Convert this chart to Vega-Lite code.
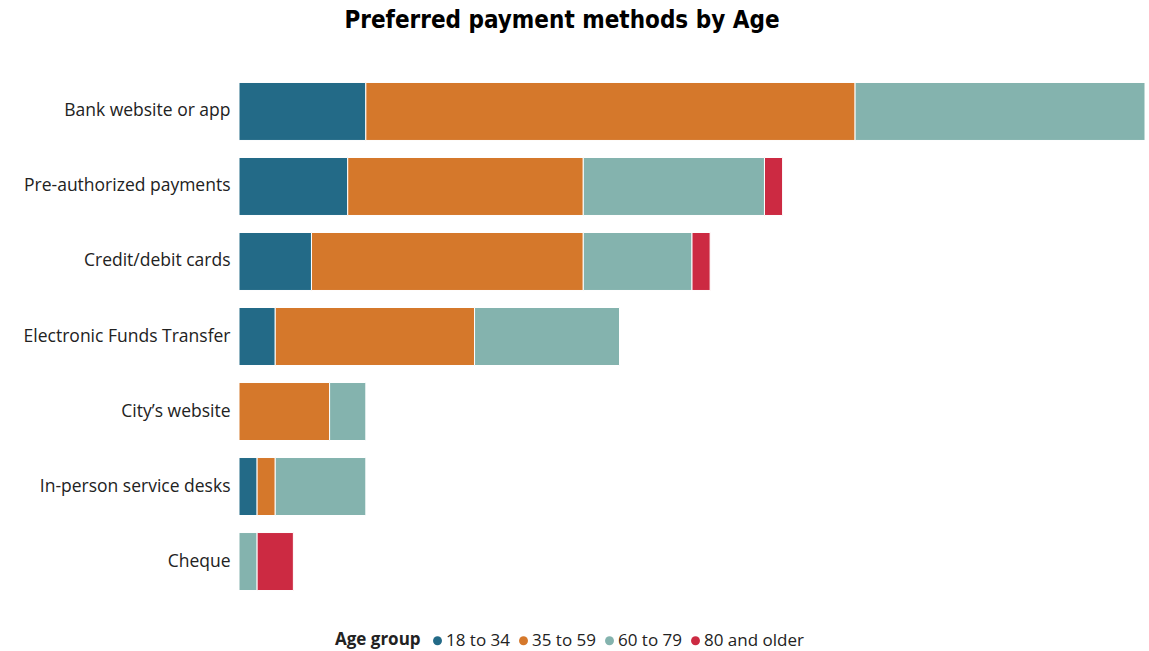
{
  "$schema": "https://vega.github.io/schema/vega-lite/v6.json",
  "autosize": {"type": "none"},
  "width": 906,
  "height": 525,
  "padding": {"left": 239, "top": 74, "right": 4, "bottom": 52},
  "background": "white",
  "title": {
    "text": "Preferred payment methods by Age",
    "font": "DejaVu Sans Condensed",
    "fontSize": 24,
    "fontWeight": "bold",
    "color": "#000000",
    "anchor": "middle",
    "frame": "group",
    "dx": -130,
    "offset": 41
  },
  "data": {
    "values": [
      {"method": "Bank website or app", "age": "18 to 34", "count": 7},
      {"method": "Bank website or app", "age": "35 to 59", "count": 27},
      {"method": "Bank website or app", "age": "60 to 79", "count": 16},
      {"method": "Pre-authorized payments", "age": "18 to 34", "count": 6},
      {"method": "Pre-authorized payments", "age": "35 to 59", "count": 13},
      {"method": "Pre-authorized payments", "age": "60 to 79", "count": 10},
      {"method": "Pre-authorized payments", "age": "80 and older", "count": 1},
      {"method": "Credit/debit cards", "age": "18 to 34", "count": 4},
      {"method": "Credit/debit cards", "age": "35 to 59", "count": 15},
      {"method": "Credit/debit cards", "age": "60 to 79", "count": 6},
      {"method": "Credit/debit cards", "age": "80 and older", "count": 1},
      {"method": "Electronic Funds Transfer", "age": "18 to 34", "count": 2},
      {"method": "Electronic Funds Transfer", "age": "35 to 59", "count": 11},
      {"method": "Electronic Funds Transfer", "age": "60 to 79", "count": 8},
      {"method": "City’s website", "age": "35 to 59", "count": 5},
      {"method": "City’s website", "age": "60 to 79", "count": 2},
      {"method": "In-person service desks", "age": "18 to 34", "count": 1},
      {"method": "In-person service desks", "age": "35 to 59", "count": 1},
      {"method": "In-person service desks", "age": "60 to 79", "count": 5},
      {"method": "Cheque", "age": "60 to 79", "count": 1},
      {"method": "Cheque", "age": "80 and older", "count": 2}
    ]
  },
  "mark": {"type": "bar", "stroke": "white", "strokeWidth": 1},
  "encoding": {
    "y": {
      "field": "method",
      "type": "nominal",
      "sort": ["Bank website or app", "Pre-authorized payments", "Credit/debit cards", "Electronic Funds Transfer", "City’s website", "In-person service desks", "Cheque"],
      "scale": {"paddingInner": 0.227, "paddingOuter": 0.113},
      "axis": {
        "title": null,
        "domain": false,
        "ticks": false,
        "labelPadding": 9,
        "labelFont": "Open Sans",
        "labelFontSize": 17.5,
        "labelColor": "#222222",
        "labelLimit": 300
      }
    },
    "x": {
      "field": "count",
      "type": "quantitative",
      "aggregate": "sum",
      "stack": "zero",
      "scale": {"domain": [0, 50], "nice": false},
      "axis": null
    },
    "color": {
      "field": "age",
      "type": "nominal",
      "scale": {
        "domain": ["18 to 34", "35 to 59", "60 to 79", "80 and older"],
        "range": ["#236a87", "#d5782b", "#84b3ae", "#cc2a42"]
      },
      "legend": {
        "title": "Age group",
        "orient": "none",
        "direction": "horizontal",
        "legendX": 96,
        "legendY": 558,
        "titleOrient": "left",
        "titleFont": "Open Sans",
        "titleFontSize": 17,
        "titleFontWeight": "bold",
        "titleColor": "#222222",
        "titlePadding": 8,
        "labelFont": "Open Sans",
        "labelFontSize": 17,
        "labelColor": "#222222",
        "labelOffset": 0,
        "symbolType": "circle",
        "symbolSize": 80,
        "symbolStrokeWidth": 0,
        "columnPadding": 5
      }
    }
  },
  "config": {"view": {"stroke": null}}
}
